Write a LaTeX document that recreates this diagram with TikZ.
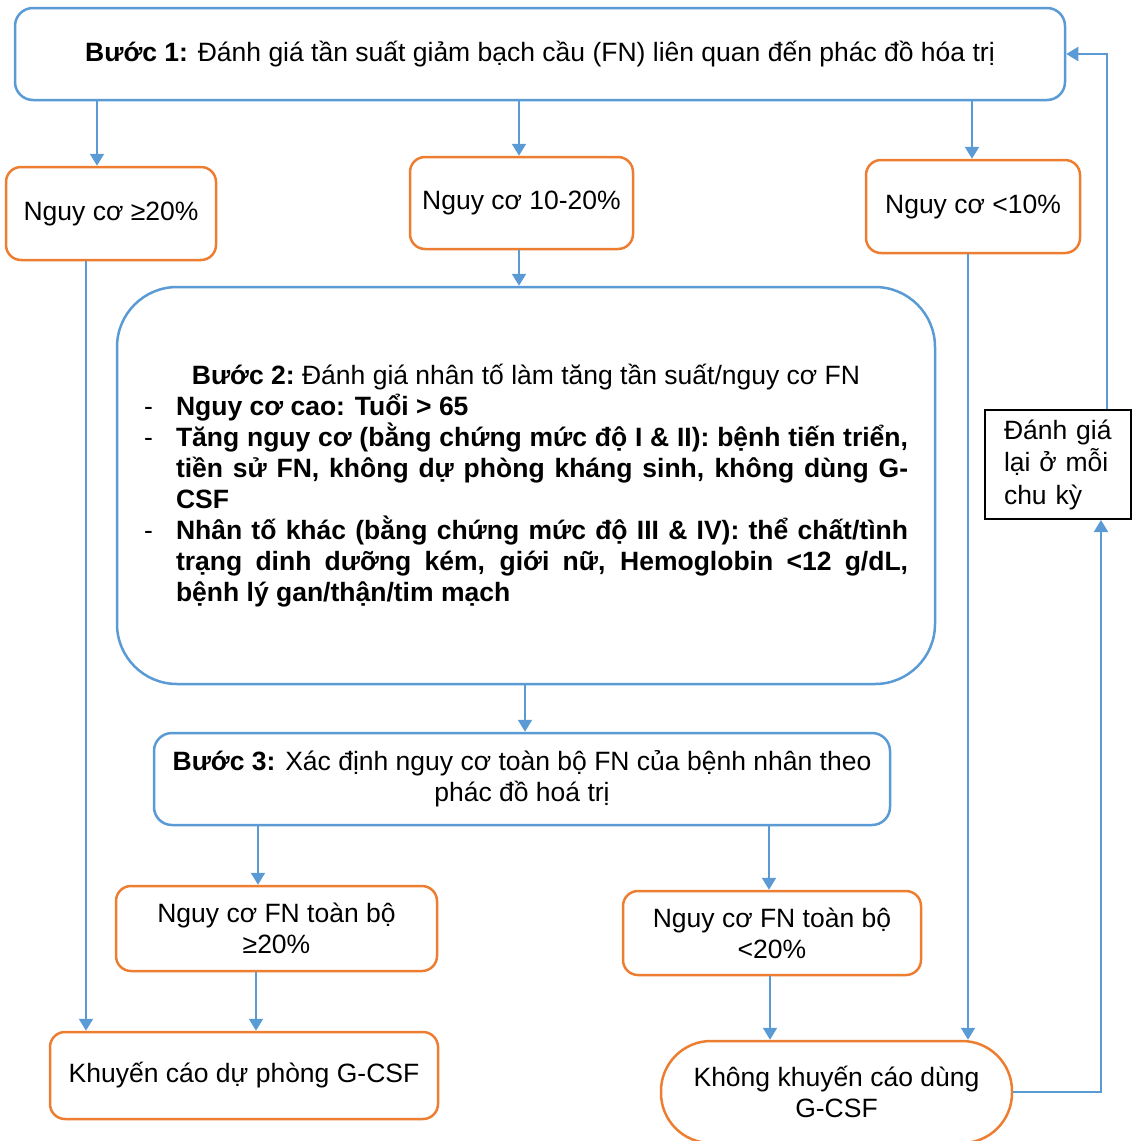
\documentclass[tikz,border=0pt]{standalone}
\usepackage{fontspec}
\setmainfont{Liberation Sans}
\usetikzlibrary{arrows.meta}
\definecolor{stepblue}{HTML}{5B9BD5}
\definecolor{riskorange}{HTML}{ED7D31}

\begin{document}
\begin{tikzpicture}
    [x=1pt, y=-1pt,
    font=\fontsize{26.5}{31}\selectfont,
    flow/.style={draw=stepblue, line width=2pt, -{Triangle[width=14pt,length=12pt]}},
    stepbox/.style={draw=stepblue, line width=2.5pt, rounded corners=18pt, inner sep=0pt, align=center},
    riskbox/.style={draw=riskorange, line width=2.5pt, rounded corners=15pt, inner sep=0pt, align=center},
    notebox/.style={draw=black, line width=2pt, inner sep=0pt, align=left}]
    \clip (0,0) rectangle (1133,1141);
        %% steps
    \node[stepbox, minimum width=1050pt, minimum height=92pt] (b1) at (540,54)
        {{\bfseries Bước 1:} Đánh giá tần suất giảm bạch cầu (FN) liên quan đến phác đồ hóa trị};
    \node[stepbox, rounded corners=60pt, minimum width=818pt, minimum height=397pt,
        text width=764pt, align=justify] (b2) at (526,485.5)
        {\makebox[\linewidth]{\bfseries Bước 2:\mdseries\ Đánh giá nhân tố làm tăng tần suất/nguy cơ FN}\par
        \bfseries
        \hangindent=32pt\hangafter=1\noindent\makebox[32pt][l]{\mdseries -}Nguy cơ cao: Tuổi > 65\par
        \hangindent=32pt\hangafter=1\noindent\makebox[32pt][l]{\mdseries -}Tăng nguy cơ (bằng chứng mức độ I \& II): bệnh tiến triển,\linebreak
        tiền sử FN, không dự phòng kháng sinh, không dùng G-\linebreak CSF\par
        \hangindent=32pt\hangafter=1\noindent\makebox[32pt][l]{\mdseries -}Nhân tố khác (bằng chứng mức độ III \& IV): thể chất/tình\linebreak
        trạng dinh dưỡng kém, giới nữ, Hemoglobin <12 g/dL,\linebreak
        bệnh lý gan/thận/tim mạch\par};
    \node[stepbox, minimum width=736pt, minimum height=92pt] (b3) at (522,779)
        {{\bfseries Bước 3:} Xác định nguy cơ toàn bộ FN của bệnh nhân theo\\phác đồ hoá trị};
        %% risk levels
    \node[riskbox, minimum width=210pt, minimum height=93pt] (r1) at (111,213.5) {Nguy cơ ≥20\%};
    \node[riskbox, minimum width=223pt, minimum height=92pt] (r2) at (521.5,203) {Nguy cơ 10-20\%};
    \node[riskbox, minimum width=214pt, minimum height=93pt] (r3) at (973,206.5) {Nguy cơ <10\%};
    \node[riskbox, minimum width=321pt, minimum height=85pt] (t1) at (276.5,928.5) {Nguy cơ FN toàn bộ\\≥20\%};
    \node[riskbox, minimum width=298pt, minimum height=84pt] (t2) at (772,933) {Nguy cơ FN toàn bộ\\<20\%};
        %% outcomes
    \node[riskbox, minimum width=388pt, minimum height=87pt] (yes) at (244,1075.5) {Khuyến cáo dự phòng G-CSF};
    \node[riskbox, rounded corners=50pt, minimum width=351pt, minimum height=102pt] (no) at (836.5,1092)
        {Không khuyến cáo dùng\\G-CSF};
    \node[notebox, minimum width=146pt, minimum height=109pt, text width=108pt,
        font=\fontsize{26.5}{32.5}\selectfont] (again) at (1058,464.5) {Đánh giá\\lại ở mỗi\\chu kỳ};

    \draw[flow] (b1.south -| 97,0) -- (r1.north -| 97,0);
    \draw[flow] (b1.south -| 519,0) -- (r2.north -| 519,0);
    \draw[flow] (b1.south -| 972,0) -- (r3.north -| 972,0);
    \draw[flow] (r2.south -| 519,0) -- (b2.north -| 519,0);
    \draw[flow] (b2.south -| 525,0) -- (b3.north -| 525,0);
    \draw[flow] (b3.south -| 258,0) -- (t1.north -| 258,0);
    \draw[flow] (b3.south -| 769,0) -- (t2.north -| 769,0);
    \draw[flow] (t1.south -| 256,0) -- (yes.north -| 256,0);
    \draw[flow] (t2.south -| 770,0) -- (no.north -| 770,0);
    \draw[flow] (r1.south -| 86,0) -- (yes.north -| 86,0);
    \draw[flow] (r3.south -| 968,0) -- (no.north -| 968,0);
    \draw[flow] (no.east) -- (no.east -| 1101,0) -- (again.south -| 1101,0);
    \draw[flow] (again.north -| 1107,0) |- (b1.east);
\end{tikzpicture}
\end{document}
